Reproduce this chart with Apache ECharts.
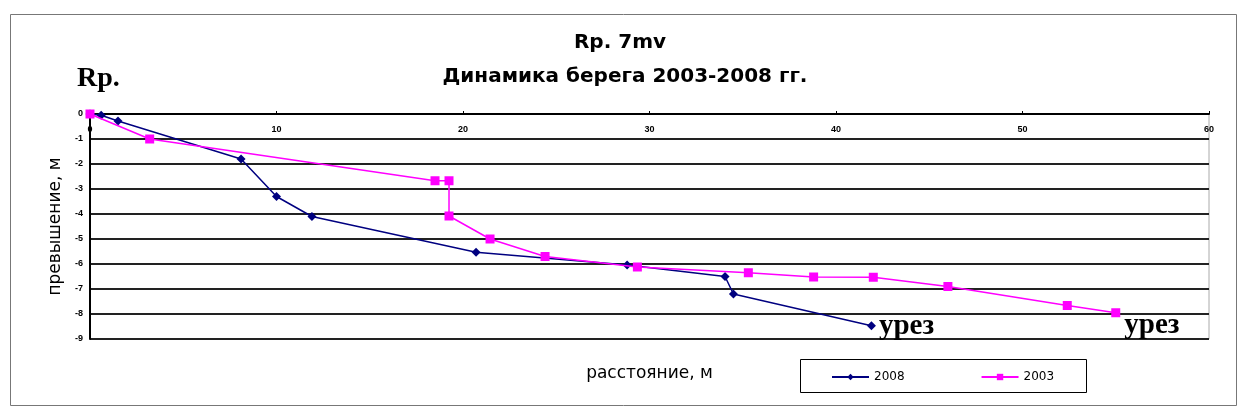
<!DOCTYPE html>
<html><head><meta charset="utf-8">
<script src="https://cdn.jsdelivr.net/npm/echarts@6/dist/echarts.min.js"></script>
<style>html,body{margin:0;padding:0;background:#fff}#c{width:1246px;height:416px}</style>
</head><body><div id="c"></div>
<script>
const xTicks = [0, 10, 20, 30, 40, 50, 60];
const yTicks = [0, -1, -2, -3, -4, -5, -6, -7, -8, -9];
const x2008 = [0, 0.6, 1.5, 8.1, 10.0, 11.9, 20.7, 28.8, 34.05, 34.5, 41.9];
const y2008 = [0, -0.05, -0.28, -1.8, -3.3, -4.1, -5.53, -6.04, -6.5, -7.2, -8.47];
const x2003 = [0, 3.2, 18.5, 19.25, 19.25, 21.45, 24.4, 29.35, 35.3, 38.8, 42.0, 46.0, 52.4, 55.0];
const y2003 = [0, -1.0, -2.67, -2.67, -4.08, -5.0, -5.7, -6.12, -6.35, -6.52, -6.53, -6.9, -7.66, -7.95];
const seriesNames = ['2008', '2003'];
const endLabel = 'урез';
const titleLines = ['Rp. 7mv', 'Динамика берега 2003-2008 гг.'];

const chart = echarts.init(document.getElementById('c'));
function pts(xs, ys){ return xs.map((x,i)=>[x, ys[i]]); }
const lblStyle = {show:true, position:'right', formatter: endLabel, fontFamily:'Liberation Serif', fontWeight:'bold', fontSize:29, color:'#000'};
const d2008 = pts(x2008, y2008).map((p,i,a)=> i===a.length-1 ? {value:p, label:Object.assign({}, lblStyle, {offset:[-2,1]})} : p);
const d2003 = pts(x2003, y2003).map((p,i,a)=> i===a.length-1 ? {value:p, label:Object.assign({}, lblStyle, {offset:[-1,13]})} : p);

chart.setOption({
  animation:false,
  backgroundColor:'#fff',
  graphic:[
    {type:'rect', shape:{x:10.5,y:14.5,width:1226,height:391}, style:{fill:'none', stroke:'#777', lineWidth:1}},
    {type:'text', x:77, y:79, style:{text:'Rp.', font:'bold 28px "Liberation Serif"', fill:'#000', verticalAlign:'middle'}},
    {type:'text', x:620, y:43, style:{text:titleLines[0], font:'bold 20px "DejaVu Sans"', fill:'#000', align:'center', verticalAlign:'middle'}},
    {type:'text', x:625, y:77, style:{text:titleLines[1], font:'bold 20px "DejaVu Sans"', fill:'#000', align:'center', verticalAlign:'middle'}},
    {type:'rect', shape:{x:800.5,y:359.5,width:286,height:33}, style:{fill:'none', stroke:'#000', lineWidth:1}}
  ],
  legend:{
    left:826, top:366, itemGap:76, itemWidth:37, itemHeight:8,
    data:seriesNames,
    textStyle:{fontFamily:'DejaVu Sans', fontSize:12, color:'#000'}
  },
  grid:{left:90, top:114, right:37, bottom:77, show:true, borderColor:'#aaa', borderWidth:1},
  xAxis:{
    type:'value', position:'top', min:0, max:60, interval:10,
    name:'расстояние, м', nameLocation:'middle', nameGap:-268,
    nameTextStyle:{fontFamily:'DejaVu Sans', fontSize:17, color:'#000'},
    axisLine:{show:true, onZero:false, lineStyle:{color:'#000', width:2}},
    axisTick:{show:true, inside:false, length:3, lineStyle:{color:'#000'}},
    axisLabel:{inside:true, margin:11, fontFamily:'Liberation Sans', fontWeight:'bold', fontSize:9, color:'#000',
      formatter: v => xTicks.includes(v) ? String(v) : ''},
    splitLine:{show:false}
  },
  yAxis:{
    type:'value', min:-9, max:0, interval:1,
    name:'превышение, м', nameLocation:'middle', nameGap:20, nameRotate:90,
    nameTextStyle:{fontFamily:'DejaVu Sans', fontSize:17, color:'#000'},
    axisLine:{show:true, onZero:false, lineStyle:{color:'#000', width:2}},
    axisTick:{show:false},
    axisLabel:{margin:7, fontFamily:'Liberation Sans', fontWeight:'bold', fontSize:9, color:'#000',
      formatter: v => yTicks.includes(v) ? String(v) : ''},
    splitLine:{show:true, lineStyle:{color:'#222', width:2}}
  },
  series:[
    {name:seriesNames[0], type:'line', data:d2008, symbol:'diamond', symbolSize:9,
      lineStyle:{color:'#000080', width:1.5}, itemStyle:{color:'#000080'}, z:3},
    {name:seriesNames[1], type:'line', data:d2003, symbol:'rect', symbolSize:9,
      lineStyle:{color:'#ff00ff', width:1.5}, itemStyle:{color:'#ff00ff'}, z:4}
  ]
});
</script></body></html>
